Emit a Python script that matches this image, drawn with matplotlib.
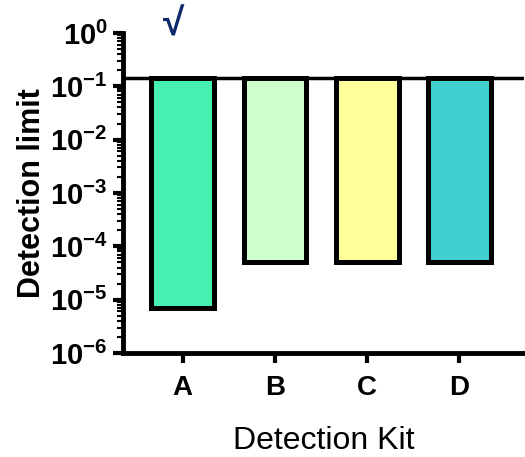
import matplotlib
matplotlib.use("Agg")
from matplotlib import pyplot as plt
from matplotlib.ticker import FixedLocator, LogLocator, NullFormatter

kits = ["A", "B", "C", "D"]
limits = [7e-6, 5e-5, 5e-5, 5e-5]
baseline = 0.14
colors = ["#46F0B0", "#CCFFCC", "#FFFF99", "#40CFCF"]
y_decades = [1e-6, 1e-5, 1e-4, 1e-3, 1e-2, 1e-1, 1e0]
y_exponents = ["-6", "-5", "-4", "-3", "-2", "-1", "0"]

plt.rcParams["font.family"] = ["Liberation Sans", "DejaVu Sans"]
plt.rcParams["mathtext.fontset"] = "custom"
plt.rcParams["mathtext.bf"] = "Liberation Sans:bold"
plt.rcParams["mathtext.rm"] = "Liberation Sans"


def main():
    fig = plt.figure(figsize=(5.25, 4.57), dpi=100)
    ax = fig.add_axes([0.234, 0.2276, 0.764, 0.7004])

    x = list(range(len(kits)))
    heights = [v - baseline for v in limits]
    ax.bar(x, heights, bottom=baseline, width=0.68, color=colors,
           edgecolor="black", linewidth=3.6, zorder=3)
    ax.axhline(baseline, color="black", linewidth=2.5, zorder=4)

    ax.set_yscale("log")
    ax.set_ylim(1e-6, 1e0)
    ax.set_xlim(-0.65, 3.7)

    ax.yaxis.set_major_locator(FixedLocator(y_decades))
    ax.set_yticklabels([r"$\mathbf{10^{%s}}$" % e for e in y_exponents], fontsize=21)
    ax.yaxis.set_minor_locator(LogLocator(base=10, subs=range(2, 10), numticks=20))
    ax.yaxis.set_minor_formatter(NullFormatter())

    ax.set_xticks(x)
    ax.set_xticklabels(kits, fontsize=20, fontweight="bold")

    for side in ["top", "right"]:
        ax.spines[side].set_visible(False)
    for side in ["left", "bottom"]:
        ax.spines[side].set_linewidth(3.5)

    ax.tick_params(axis="both", which="major", direction="out", length=7, width=3, pad=4)
    ax.tick_params(axis="y", which="minor", direction="out", length=4, width=1.5)
    ax.tick_params(axis="x", pad=9)

    ax.set_ylabel("Detection limit", fontsize=22, fontweight="bold", labelpad=2)
    ax.set_xlabel("Detection Kit", fontsize=23, labelpad=18)

    # check mark above kit A
    fig.text(0.33, 0.923, "√", ha="center", va="baseline", fontsize=28,
             color="#0F2A6B", fontweight="bold")

    plt.savefig("out.png", dpi=100)


if __name__ == "__main__":
    main()
